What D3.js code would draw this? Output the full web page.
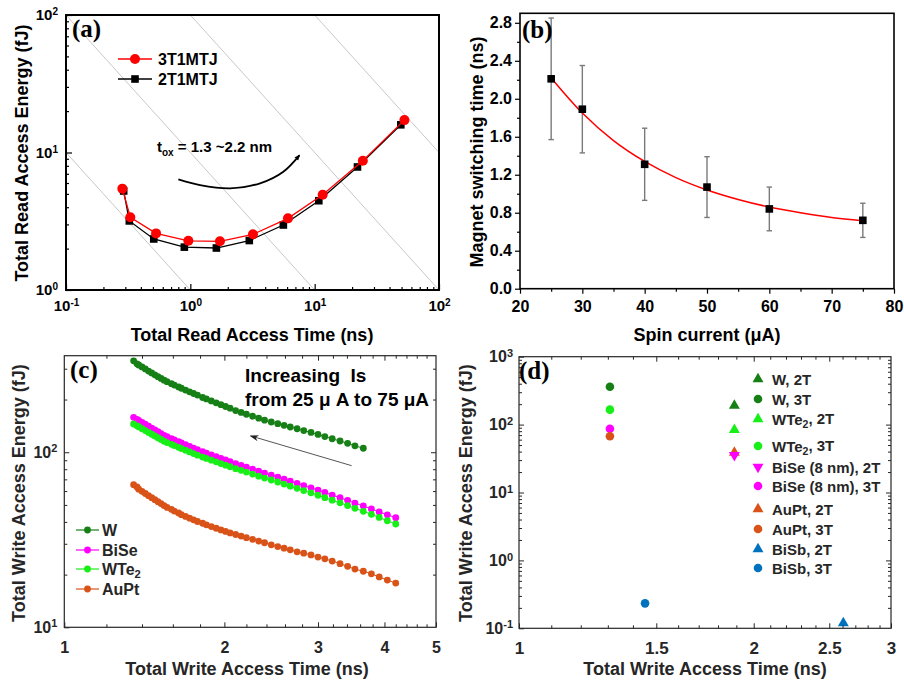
<!DOCTYPE html>
<html>
<head>
<meta charset="utf-8">
<script src="https://cdn.jsdelivr.net/npm/d3@7"></script>
<style>
  body { margin: 0; background: #fff; }
  svg { display: block; }
</style>
</head>
<body>
<svg id="fig" width="904" height="683"></svg>
<script>
// ---------- data ----------

// (a) read energy vs read time, t_ox = 1.3 .. 2.2 nm
const read3T_time   = [0.284, 0.329, 0.53, 0.964, 1.73, 3.19, 6.1, 11.6, 24.4, 52.7];
const read3T_energy = [5.46, 3.38, 2.58, 2.28, 2.26, 2.54, 3.32, 4.93, 8.71, 17.2];
const read2T_time   = [0.291, 0.323, 0.508, 0.895, 1.62, 2.98, 5.6, 10.8, 22.1, 49.3];
const read2T_energy = [5.25, 3.18, 2.35, 2.05, 2.02, 2.29, 2.97, 4.46, 7.85, 15.9];
const edpLevels = [1, 10, 100, 1000];        // constant energy*delay guide lines (fJ*ns)
const arrowA = [[0.801, 6.38], [1.197, 5.80], [2.086, 5.49], [3.637, 5.97], [5.6, 7.25], [7.53, 9.53]];

// (b) switching time vs spin current
const spinCurrent = [25, 30, 40, 50, 60, 75];
const switchTime  = [2.21, 1.89, 1.31, 1.07, 0.84, 0.72];
const switchErr   = [0.64, 0.46, 0.38, 0.32, 0.23, 0.18];
const fitCurrent  = [25, 30, 35, 40, 45, 50, 55, 60, 65, 70, 75];
const fitTime     = [2.22, 1.85, 1.56, 1.34, 1.17, 1.04, 0.94, 0.86, 0.80, 0.75, 0.715];

// (c) write energy vs write time, Is = 25 .. 75 uA
const writeTime = [4.20, 4.05, 3.91, 3.78, 3.65, 3.52, 3.41, 3.30, 3.19, 3.09,
  3.00, 2.91, 2.82, 2.74, 2.66, 2.59, 2.52, 2.45, 2.38, 2.32,
  2.26, 2.20, 2.15, 2.10, 2.05, 2.01, 1.97, 1.93, 1.89, 1.85,
  1.82, 1.78, 1.75, 1.72, 1.69, 1.66, 1.64, 1.61, 1.59, 1.56,
  1.54, 1.52, 1.50, 1.48, 1.46, 1.44, 1.42, 1.40, 1.38, 1.37, 1.35];
const energyW = [null, null, null, null, 105.4, 108.8, 112.4, 115.9, 119.4, 122.9,
  126.4, 129.7, 133.0, 136.2, 139.4, 142.5, 145.6, 148.8, 152.4, 156.5,
  160.5, 164.8, 168.8, 172.9, 178.5, 182.5, 187, 191.5, 196.5, 201.5,
  205.5, 212, 216.5, 221.5, 226.5, 232, 236, 242, 246.5, 253,
  258, 264, 270, 277, 284, 291, 299, 307, 315, 320, 333];
const energyBiSe = [42.3, 43.9, 45.6, 47.4, 49.3, 51.2, 53.1, 55.0, 56.9, 58.9,
  60.8, 62.6, 64.5, 66.4, 68.3, 70.2, 72.1, 74.0, 76.0, 78.0,
  80.1, 82.3, 84.2, 86.2, 88.4, 90.3, 92.3, 94.4, 96.6, 98.9,
  100.7, 103.3, 105.6, 108.0, 110.5, 113.1, 114.9, 117.7, 119.6, 122.6,
  124.9, 127.9, 130.9, 134.1, 137.4, 140.8, 144.5, 148.2, 152.1, 154.1, 158.3];
const energyWTe2 = [38.9, 40.6, 42.4, 44.2, 46.0, 47.8, 49.6, 51.4, 53.2, 55.0,
  56.8, 58.6, 60.4, 62.2, 64.0, 65.8, 67.6, 69.4, 71.2, 73.0,
  75.0, 77.0, 78.8, 80.6, 82.6, 84.4, 86.2, 88.1, 90.1, 92.2,
  93.8, 96.2, 98.3, 100.4, 102.7, 105.0, 106.7, 109.2, 110.9, 113.6,
  115.6, 118.3, 121.0, 123.8, 126.7, 129.8, 133.0, 136.3, 139.8, 141.6, 145.0];
const energyAuPt = [17.9, 18.6, 19.4, 20.2, 20.9, 21.5, 22.3, 23.1, 23.9, 24.6,
  25.2, 25.9, 26.5, 27.0, 27.7, 28.3, 28.9, 29.6, 30.4, 31.1,
  31.8, 32.5, 33.2, 33.9, 34.6, 35.3, 36.0, 36.8, 37.6, 38.5,
  39.3, 40.2, 41.1, 42.0, 43.0, 44.0, 45.0, 46.1, 47.2, 48.4,
  49.6, 50.9, 52.2, 53.6, 55.0, 56.5, 58.1, 59.8, 61.5, 63.3, 65.2];
const arrowC = [[3.47, 83.8], [2.24, 124]];

// (d) 2T vs 3T cells
const materialsD = ["W", "WTe2", "BiSe (8 nm)", "AuPt", "BiSb"];
const time2T   = [1.889, 1.889, 1.889, 1.889, 2.606];
const energy2T = [190, 83.6, 35.6, 38.6, 0.119];
const time3T   = [1.308, 1.308, 1.308, 1.308, 1.451];
const energy3T = [361, 166, 87, 67.3, 0.233];

// ---------- styles ----------
const FONT = '"Liberation Sans", Arial, Helvetica, sans-serif';
const SERIF = '"Liberation Serif", "Times New Roman", serif';
const DARK = "#262626";
const colW = "#168016", colWTe2 = "#18ee18", colBiSe = "#ff00ff", colAuPt = "#d95319", colBiSb = "#0072bd";
const colD = [colW, colWTe2, colBiSe, colAuPt, colBiSb];

const svg = d3.select("#fig");
svg.append("rect").attr("width", 904).attr("height", 683).attr("fill", "#fff");

// ---------- helpers ----------
function sup(sel, v, fs) {
  const e = Math.round(Math.log10(v));
  sel.text(null);
  sel.append("tspan").text("10");
  sel.append("tspan").attr("dy", "-0.5em").attr("font-size", fs).text(e);
}

function logMinor(lo, hi) {
  const out = [];
  for (let p = Math.floor(Math.log10(lo)); p < Math.ceil(Math.log10(hi)); p++)
    for (let k = 2; k < 10; k++) {
      const v = k * Math.pow(10, p);
      if (v > lo * 1.0001 && v < hi * 0.9999) out.push(v);
    }
  return out;
}

function axis(g, gen, tr, vals, size, pad, col, sw, fs, fmt) {
  const a = g.append("g").attr("transform", tr)
    .call(gen.tickValues(vals).tickSizeInner(size).tickSizeOuter(0).tickPadding(pad).tickFormat(fmt || (() => "")));
  a.select(".domain").remove();
  a.attr("font-family", null).attr("font-size", null);
  a.selectAll("line").attr("stroke", col).attr("stroke-width", sw);
  a.selectAll("text").attr("font-family", FONT).attr("font-weight", "bold")
    .attr("font-size", fs).attr("fill", col);
  return a;
}

function frame(g, x, y, col, sw) {
  g.append("rect")
    .attr("x", x.range()[0]).attr("y", y.range()[1])
    .attr("width", x.range()[1] - x.range()[0]).attr("height", y.range()[0] - y.range()[1])
    .attr("fill", "none").attr("stroke", col).attr("stroke-width", sw);
}

function title(g, txt, x, y, rot, col) {
  g.append("text").attr("transform", `translate(${x},${y})` + (rot ? " rotate(-90)" : ""))
    .attr("text-anchor", "middle").attr("font-family", FONT).attr("font-weight", "bold")
    .attr("font-size", 18).attr("fill", col).text(txt);
}

function panelLabel(g, txt, x, y) {
  g.append("text").attr("x", x).attr("y", y).attr("font-family", SERIF)
    .attr("font-weight", "bold").attr("font-size", 25).attr("fill", "#000").text(txt);
}

// label with "2" of WTe2 as subscript
function richLabel(t, s) {
  const i = s.indexOf("WTe2");
  if (i < 0) { t.text(s); return; }
  t.append("tspan").text(s.slice(0, i + 3));
  t.append("tspan").attr("dy", "0.3em").attr("font-size", "0.7em").text("2");
  t.append("tspan").attr("dy", "-0.3em").text(s.slice(i + 4));
}

const defs = svg.append("defs");
defs.append("marker").attr("id", "headA").attr("viewBox", "0 0 10 10")
  .attr("refX", 8).attr("refY", 5).attr("markerWidth", 6).attr("markerHeight", 6)
  .attr("markerUnits", "userSpaceOnUse").attr("orient", "auto")
  .append("path").attr("d", "M0,1 L10,5 L0,9 Z").attr("fill", "#000");
defs.append("marker").attr("id", "headC").attr("viewBox", "0 0 10 10")
  .attr("refX", 9).attr("refY", 5).attr("markerWidth", 9).attr("markerHeight", 9)
  .attr("markerUnits", "userSpaceOnUse").attr("orient", "auto")
  .append("path").attr("d", "M0,1.5 L10,5 L0,8.5 L3,5 Z").attr("fill", "#222");

// ================= (a) =================
const gA = svg.append("g");
const xA = d3.scaleLog().domain([0.1, 100]).range([66, 439]);
const yA = d3.scaleLog().domain([1, 100]).range([290, 15]);

defs.append("clipPath").attr("id", "clipA").append("rect")
  .attr("x", 66).attr("y", 15).attr("width", 373).attr("height", 275);

gA.append("g").attr("clip-path", "url(#clipA)").selectAll("line.edp").data(edpLevels).join("line")
  .attr("x1", xA(0.1)).attr("y1", d => yA(d / 0.1))
  .attr("x2", xA(100)).attr("y2", d => yA(d / 100))
  .attr("stroke", "#c8c8c8").attr("stroke-width", 1);

const lineA = d3.line().x(d => xA(d[0])).y(d => yA(d[1]));
const pts2T = read2T_time.map((t, i) => [t, read2T_energy[i]]);
const pts3T = read3T_time.map((t, i) => [t, read3T_energy[i]]);

gA.append("path").datum(pts2T).attr("d", lineA).attr("fill", "none").attr("stroke", "#000").attr("stroke-width", 1.3);
gA.selectAll("rect.sq").data(pts2T).join("rect")
  .attr("x", d => xA(d[0]) - 3.8).attr("y", d => yA(d[1]) - 3.8)
  .attr("width", 7.6).attr("height", 7.6).attr("fill", "#000");
gA.append("path").datum(pts3T).attr("d", lineA).attr("fill", "none").attr("stroke", "#ff0000").attr("stroke-width", 1.3);
gA.selectAll("circle.rc").data(pts3T).join("circle")
  .attr("cx", d => xA(d[0])).attr("cy", d => yA(d[1])).attr("r", 5).attr("fill", "#ff0000");

gA.append("path").datum(arrowA).attr("d", lineA.curve(d3.curveCatmullRom))
  .attr("fill", "none").attr("stroke", "#000").attr("stroke-width", 1.8).attr("marker-end", "url(#headA)");

const txA = gA.append("text").attr("x", 157).attr("y", 152).attr("font-family", FONT)
  .attr("font-weight", "bold").attr("font-size", 15).attr("fill", "#000");
txA.append("tspan").text("t");
txA.append("tspan").attr("dy", 4).attr("font-size", 10).text("ox");
txA.append("tspan").attr("dy", -4).text(" = 1.3 ~2.2 nm");

// legend
[["3T1MTJ", "#ff0000", 59, "c"], ["2T1MTJ", "#000", 79, "s"]].forEach(([lab, col, y, m]) => {
  gA.append("line").attr("x1", 118).attr("x2", 152).attr("y1", y).attr("y2", y).attr("stroke", col).attr("stroke-width", 1.3);
  if (m === "c") gA.append("circle").attr("cx", 135).attr("cy", y).attr("r", 5).attr("fill", col);
  else gA.append("rect").attr("x", 131.2).attr("y", y - 3.8).attr("width", 7.6).attr("height", 7.6).attr("fill", col);
  gA.append("text").attr("x", 158).attr("y", y + 6).attr("font-family", FONT).attr("font-weight", "bold")
    .attr("font-size", 16).text(lab);
});

axis(gA, d3.axisBottom(xA), "translate(0,290)", logMinor(0.1, 100), -3, 0, "#000", 1.2, 15);
axis(gA, d3.axisBottom(xA), "translate(0,290)", [0.1, 1, 10, 100], -6, 10, "#000", 1.2, 15)
  .selectAll("text").each(function (d) { sup(d3.select(this), d, 10); });
axis(gA, d3.axisLeft(yA), "translate(66,0)", logMinor(1, 100), -3, 0, "#000", 1.2, 15);
axis(gA, d3.axisLeft(yA), "translate(66,0)", [1, 10, 100], -6, 8, "#000", 1.2, 15)
  .selectAll("text").each(function (d) { sup(d3.select(this), d, 10); });
frame(gA, xA, yA, "#000", 2);
title(gA, "Total Read Access Time (ns)", 252, 341, false, "#000");
title(gA, "Total Read Access Energy (fJ)", 28, 153, true, "#000");
panelLabel(gA, "(a)", 72, 37);

// ================= (b) =================
const gB = svg.append("g");
const xB = d3.scaleLinear().domain([20, 80]).range([520, 894]);
const yB = d3.scaleLinear().domain([0, 2.9]).range([288.7, 13.3]);

gB.selectAll("g.err").data(spinCurrent).join("g").each(function (c, i) {
  const g = d3.select(this);
  const lo = yB(switchTime[i] - switchErr[i]), hi = yB(switchTime[i] + switchErr[i]), x = xB(c);
  g.append("line").attr("x1", x).attr("x2", x).attr("y1", lo).attr("y2", hi);
  g.append("line").attr("x1", x - 2.7).attr("x2", x + 2.7).attr("y1", lo).attr("y2", lo);
  g.append("line").attr("x1", x - 2.7).attr("x2", x + 2.7).attr("y1", hi).attr("y2", hi);
  g.selectAll("line").attr("stroke", "#7a7a7a").attr("stroke-width", 1.4);
});

gB.append("path").datum(fitCurrent.map((c, i) => [c, fitTime[i]]))
  .attr("d", d3.line().x(d => xB(d[0])).y(d => yB(d[1])).curve(d3.curveMonotoneX))
  .attr("fill", "none").attr("stroke", "#ff0000").attr("stroke-width", 1.5);

gB.selectAll("rect.sq").data(spinCurrent).join("rect")
  .attr("x", d => xB(d) - 3.8).attr("y", (d, i) => yB(switchTime[i]) - 3.8)
  .attr("width", 7.6).attr("height", 7.6).attr("fill", "#000");

axis(gB, d3.axisBottom(xB), "translate(0,288.7)", d3.range(25, 80, 10), 3, 0, "#000", 1.2, 16);
axis(gB, d3.axisBottom(xB), "translate(0,288.7)", d3.range(20, 81, 10), 5, 7, "#000", 1.2, 16, d3.format("d"));
axis(gB, d3.axisLeft(yB), "translate(520,0)", d3.range(0.2, 2.9, 0.4), 3, 0, "#000", 1.2, 16);
axis(gB, d3.axisLeft(yB), "translate(520,0)", d3.range(0, 2.81, 0.4), 5, 3, "#000", 1.2, 16, d3.format(".1f"));
frame(gB, xB, yB, "#000", 1.6);
title(gB, "Spin current (\u03bcA)", 707, 341, false, "#000");
title(gB, "Magnet switching time (ns)", 483, 152, true, "#000");
panelLabel(gB, "(b)", 522, 38);

// ================= (c) =================
const gC = svg.append("g");
const xC = d3.scaleLog().domain([1, 5]).range([64.3, 436]);
const yC = d3.scaleLog().domain([10, 356]).range([627.3, 355.7]);

const seriesC = [
  { name: "W", e: energyW, col: colW },
  { name: "BiSe", e: energyBiSe, col: colBiSe },
  { name: "WTe2", e: energyWTe2, col: colWTe2 },
  { name: "AuPt", e: energyAuPt, col: colAuPt }
];
const lineC = d3.line().x(d => xC(d[0])).y(d => yC(d[1]));
seriesC.forEach(s => {
  const pts = writeTime.map((t, i) => [t, s.e[i]]).filter(d => d[1] != null);
  gC.append("path").datum(pts).attr("d", lineC).attr("fill", "none").attr("stroke", s.col).attr("stroke-width", 1);
  gC.append("g").selectAll("circle").data(pts).join("circle")
    .attr("cx", d => xC(d[0])).attr("cy", d => yC(d[1])).attr("r", 3.4).attr("fill", s.col);
});

gC.append("line")
  .attr("x1", xC(arrowC[0][0])).attr("y1", yC(arrowC[0][1]))
  .attr("x2", xC(arrowC[1][0])).attr("y2", yC(arrowC[1][1]))
  .attr("stroke", "#555").attr("stroke-width", 1).attr("marker-end", "url(#headC)");

const txC = gC.append("text").attr("font-family", FONT).attr("font-weight", "bold")
  .attr("font-size", 19).attr("fill", "#000").style("white-space", "pre");
txC.append("tspan").attr("x", 245).attr("y", 382).text("Increasing  Is");
txC.append("tspan").attr("x", 245).attr("y", 406).text("from 25 \u03bc A to 75 \u03bcA");

seriesC.forEach((s, i) => {
  const y = [530, 550, 569, 589][i];
  gC.append("line").attr("x1", 76).attr("x2", 99).attr("y1", y).attr("y2", y).attr("stroke", s.col).attr("stroke-width", 1.2);
  gC.append("circle").attr("cx", 87.5).attr("cy", y).attr("r", 3.4).attr("fill", s.col);
  const t = gC.append("text").attr("x", 102).attr("y", y + 6).attr("font-family", FONT).attr("font-weight", "bold")
    .attr("font-size", 16).attr("fill", DARK);
  richLabel(t, s.name);
});

const minorC = [1.2, 1.4, 1.6, 1.8, 2.2, 2.4, 2.6, 2.8, 3.2, 3.4, 3.6, 3.8, 4.2, 4.4, 4.6, 4.8];
axis(gC, d3.axisBottom(xC), "translate(0,627.3)", minorC, -3, 0, DARK, 1, 16);
axis(gC, d3.axisTop(xC), "translate(0,355.7)", minorC, -3, 0, DARK, 1, 16);
axis(gC, d3.axisTop(xC), "translate(0,355.7)", [2, 3, 4], -5, 0, DARK, 1, 16);
axis(gC, d3.axisBottom(xC), "translate(0,627.3)", [1, 2, 3, 4, 5], -5, 14, DARK, 1, 16, d3.format("d"));
axis(gC, d3.axisLeft(yC), "translate(64.3,0)", logMinor(10, 356), -3, 0, DARK, 1, 16);
axis(gC, d3.axisRight(yC), "translate(436,0)", logMinor(10, 356), -3, 0, DARK, 1, 16);
axis(gC, d3.axisRight(yC), "translate(436,0)", [100], -5, 0, DARK, 1, 16);
axis(gC, d3.axisLeft(yC), "translate(64.3,0)", [10, 100], -5, 7, DARK, 1, 16)
  .selectAll("text").each(function (d) { sup(d3.select(this), d, 11); });
frame(gC, xC, yC, DARK, 1.2);
title(gC, "Total Write Access Time (ns)", 247, 675, false, DARK);
title(gC, "Total Write Access Energy (fJ)", 25, 493, true, DARK);
panelLabel(gC, "(c)", 70, 378);

// ================= (d) =================
const gD = svg.append("g");
const xD = d3.scaleLog().domain([1, 3]).range([519, 891]);
const yD = d3.scaleLog().domain([0.1, 1000]).range([628.3, 356.7]);

const tri = d3.symbol().type(d3.symbolTriangle).size(52);
const drawOrder2T = [0, 1, 3, 2, 4];
drawOrder2T.forEach(i => {
  gD.append("path").attr("d", tri)
    .attr("transform", `translate(${xD(time2T[i])},${yD(energy2T[i])})` + (i === 2 ? " rotate(180)" : ""))
    .attr("fill", colD[i]);
});
materialsD.forEach((m, i) => {
  gD.append("circle").attr("cx", xD(time3T[i])).attr("cy", yD(energy3T[i])).attr("r", 4.3).attr("fill", colD[i]);
});

const legRows = [0, 20, 40, 67, 88, 107, 130, 150, 170, 189];
materialsD.forEach((m, i) => {
  ["2T", "3T"].forEach((k, j) => {
    const y = 379 + legRows[i * 2 + j];
    if (j === 0) gD.append("path").attr("d", tri)
      .attr("transform", `translate(758,${y})` + (i === 2 ? " rotate(180)" : "")).attr("fill", colD[i]);
    else gD.append("circle").attr("cx", 758).attr("cy", y).attr("r", 4.3).attr("fill", colD[i]);
    const t = gD.append("text").attr("x", 772).attr("y", y + 6).attr("font-family", FONT)
      .attr("font-weight", "bold").attr("font-size", 15).attr("fill", DARK);
    richLabel(t, `${m}, ${k}`);
  });
});

const minorD = d3.range(1.1, 2.95, 0.1).filter(v => Math.abs(v * 2 - Math.round(v * 2)) > 0.01);
axis(gD, d3.axisBottom(xD), "translate(0,628.3)", minorD, -3, 0, DARK, 1, 17);
axis(gD, d3.axisTop(xD), "translate(0,356.7)", minorD, -3, 0, DARK, 1, 17);
axis(gD, d3.axisTop(xD), "translate(0,356.7)", [1.5, 2, 2.5], -5, 0, DARK, 1, 17);
axis(gD, d3.axisBottom(xD), "translate(0,628.3)", [1, 1.5, 2, 2.5, 3], -5, 14, DARK, 1, 17, d3.format("~g"));
axis(gD, d3.axisLeft(yD), "translate(519,0)", logMinor(0.1, 1000), -3, 0, DARK, 1, 16);
axis(gD, d3.axisRight(yD), "translate(891,0)", logMinor(0.1, 1000), -3, 0, DARK, 1, 16);
axis(gD, d3.axisRight(yD), "translate(891,0)", [1, 10, 100], -5, 0, DARK, 1, 16);
axis(gD, d3.axisLeft(yD), "translate(519,0)", [0.1, 1, 10, 100, 1000], -5, 6, DARK, 1, 16)
  .selectAll("text").each(function (d) { sup(d3.select(this), d, 11); });
frame(gD, xD, yD, DARK, 1.2);
title(gD, "Total Write Access Time (ns)", 705, 675, false, DARK);
title(gD, "Total Write Access Energy (fJ)", 472, 493, true, DARK);
panelLabel(gD, "(d)", 519, 379);
</script>
</body>
</html>
